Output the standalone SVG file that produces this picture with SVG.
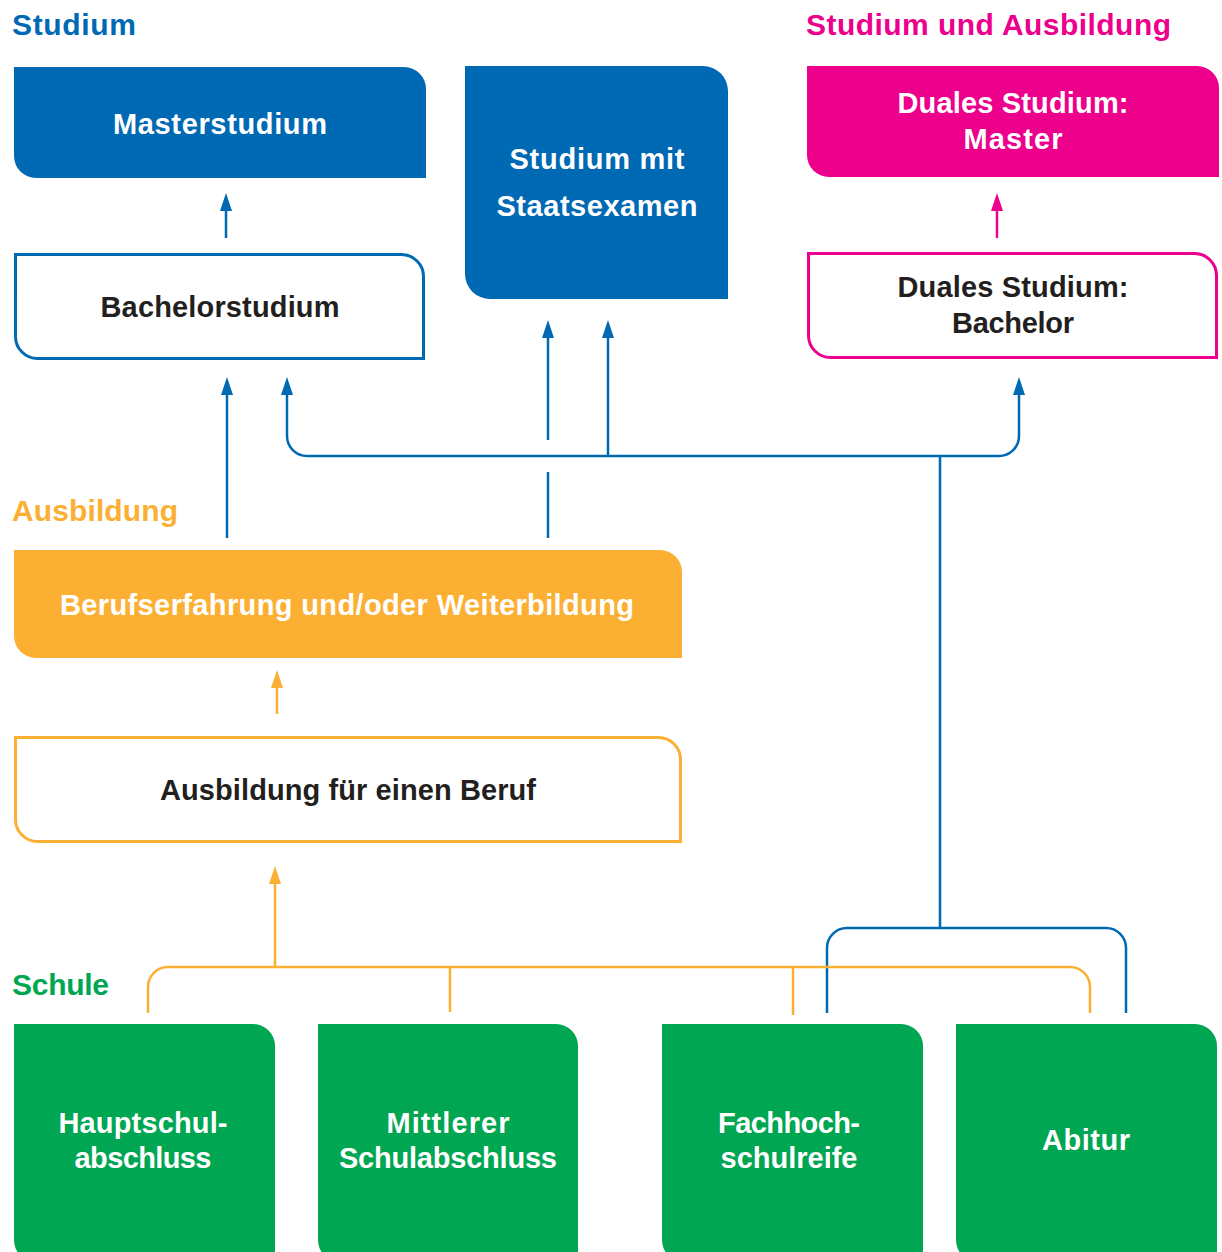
<svg xmlns="http://www.w3.org/2000/svg" width="1222" height="1252" viewBox="0 0 1222 1252">
<style>
text{font-family:"Liberation Sans",Arial,sans-serif;font-weight:bold;font-size:29px}
.c{text-anchor:middle}
.w{fill:#fff}
.d{fill:#231f20}
.sec{font-size:30px}
.blue{fill:#0069b4}
.pink{fill:#ec008c}
.orange{fill:#fbb034}
.green{fill:#00a651}
.ob{fill:#fff;stroke:#0069b4;stroke-width:3}
.op{fill:#fff;stroke:#ec008c;stroke-width:3}
.oo{fill:#fff;stroke:#fbb034;stroke-width:3}
.lb{fill:none;stroke:#0069b4;stroke-width:2.5}
.lp{fill:none;stroke:#ec008c;stroke-width:2.5}
.lo{fill:none;stroke:#fbb034;stroke-width:2.5}
</style>
<defs>
<marker id="ab" markerUnits="userSpaceOnUse" markerWidth="18" markerHeight="12" refX="8" refY="6" orient="auto" viewBox="0 0 18 12"><path d="M0,0 L18,6 L0,12 z" fill="#0069b4"/></marker>
<marker id="ap" markerUnits="userSpaceOnUse" markerWidth="18" markerHeight="12" refX="8" refY="6" orient="auto" viewBox="0 0 18 12"><path d="M0,0 L18,6 L0,12 z" fill="#ec008c"/></marker>
<marker id="ao" markerUnits="userSpaceOnUse" markerWidth="18" markerHeight="12" refX="8" refY="6" orient="auto" viewBox="0 0 18 12"><path d="M0,0 L18,6 L0,12 z" fill="#fbb034"/></marker>
</defs>

<g id="labels">
<text class="sec" x="12" y="35" fill="#0069b4" textLength="124">Studium</text>
<text class="sec" x="806" y="35" fill="#ec008c" textLength="365">Studium und Ausbildung</text>
<text class="sec" x="12" y="521" fill="#fbb034" textLength="166">Ausbildung</text>
<text class="sec" x="12" y="995" fill="#00a651" textLength="97">Schule</text>
</g>

<g id="connectors">
<line class="lb" x1="226" y1="238" x2="226" y2="203" marker-end="url(#ab)"/>
<line class="lb" x1="227" y1="538" x2="227" y2="387" marker-end="url(#ab)"/>
<path class="lb" d="M940 456 H307 A20 20 0 0 1 287 436 V387" marker-end="url(#ab)"/>
<path class="lb" d="M940 456 H999 A20 20 0 0 0 1019 436 V387" marker-end="url(#ab)"/>
<line class="lb" x1="548" y1="440" x2="548" y2="330" marker-end="url(#ab)"/>
<line class="lb" x1="548" y1="472" x2="548" y2="538"/>
<line class="lb" x1="608" y1="456" x2="608" y2="330" marker-end="url(#ab)"/>
<line class="lb" x1="940" y1="456" x2="940" y2="928"/>
<path class="lb" d="M827 1013 V948 A20 20 0 0 1 847 928 H1106 A20 20 0 0 1 1126 948 V1013"/>
<line class="lp" x1="997" y1="238" x2="997" y2="203" marker-end="url(#ap)"/>
<path class="lo" d="M148 1013 V987 A20 20 0 0 1 168 967 H1070 A20 20 0 0 1 1090 987 V1013"/>
<line class="lo" x1="450" y1="967" x2="450" y2="1012"/>
<line class="lo" x1="793" y1="967" x2="793" y2="1015"/>
<line class="lo" x1="275" y1="967" x2="275" y2="876" marker-end="url(#ao)"/>
<line class="lo" x1="277" y1="714" x2="277" y2="680" marker-end="url(#ao)"/>
</g>

<g id="masterstudium">
<path class="blue" d="M14 67 H404 A22 22 0 0 1 426 89 V178 H36 A22 22 0 0 1 14 156 Z"/>
<text class="c w" x="220" y="134" textLength="214">Masterstudium</text>
</g>
<g id="bachelorstudium">
<path class="ob" d="M15.5 254.5 H401.5 A22 22 0 0 1 423.5 276.5 V358.5 H37.5 A22 22 0 0 1 15.5 336.5 Z"/>
<text class="c d" x="220" y="317" textLength="239">Bachelorstudium</text>
</g>
<g id="staatsexamen">
<path class="blue" d="M465 66 H703 A25 25 0 0 1 728 91 V299 H490 A25 25 0 0 1 465 274 Z"/>
<text class="c w" x="597" y="169" textLength="175">Studium mit</text>
<text class="c w" x="597" y="216" textLength="201">Staatsexamen</text>
</g>
<g id="dual-master">
<path class="pink" d="M807 66 H1197 A22 22 0 0 1 1219 88 V177 H829 A22 22 0 0 1 807 155 Z"/>
<text class="c w" x="1013" y="113" textLength="231">Duales Studium:</text>
<text class="c w" x="1013" y="149" textLength="99">Master</text>
</g>
<g id="dual-bachelor">
<path class="op" d="M808.5 253.5 H1194.5 A22 22 0 0 1 1216.5 275.5 V357.5 H830.5 A22 22 0 0 1 808.5 335.5 Z"/>
<text class="c d" x="1013" y="297" textLength="231">Duales Studium:</text>
<text class="c d" x="1013" y="333" textLength="122">Bachelor</text>
</g>
<g id="berufserfahrung">
<path class="orange" d="M14 550 H660 A22 22 0 0 1 682 572 V658 H36 A22 22 0 0 1 14 636 Z"/>
<text class="c w" x="347" y="615" textLength="574">Berufserfahrung und/oder Weiterbildung</text>
</g>
<g id="ausbildung-beruf">
<path class="oo" d="M15.5 737.5 H658.5 A22 22 0 0 1 680.5 759.5 V841.5 H37.5 A22 22 0 0 1 15.5 819.5 Z"/>
<text class="c d" x="348" y="800" textLength="376">Ausbildung für einen Beruf</text>
</g>
<g id="hauptschulabschluss">
<path class="green" d="M14 1024 H253 A22 22 0 0 1 275 1046 V1262 H36 A22 22 0 0 1 14 1240 Z"/>
<text class="c w" x="143" y="1133" textLength="169">Hauptschul-</text>
<text class="c w" x="143" y="1168" textLength="137">abschluss</text>
</g>
<g id="mittlerer-schulabschluss">
<path class="green" d="M318 1024 H556 A22 22 0 0 1 578 1046 V1262 H340 A22 22 0 0 1 318 1240 Z"/>
<text class="c w" x="448" y="1133" textLength="123">Mittlerer</text>
<text class="c w" x="448" y="1168" textLength="218">Schulabschluss</text>
</g>
<g id="fachhochschulreife">
<path class="green" d="M662 1024 H901 A22 22 0 0 1 923 1046 V1262 H684 A22 22 0 0 1 662 1240 Z"/>
<text class="c w" x="789" y="1133" textLength="142">Fachhoch-</text>
<text class="c w" x="789" y="1168" textLength="137">schulreife</text>
</g>
<g id="abitur">
<path class="green" d="M956 1024 H1195 A22 22 0 0 1 1217 1046 V1262 H978 A22 22 0 0 1 956 1240 Z"/>
<text class="c w" x="1086" y="1150" textLength="88">Abitur</text>
</g>
</svg>
